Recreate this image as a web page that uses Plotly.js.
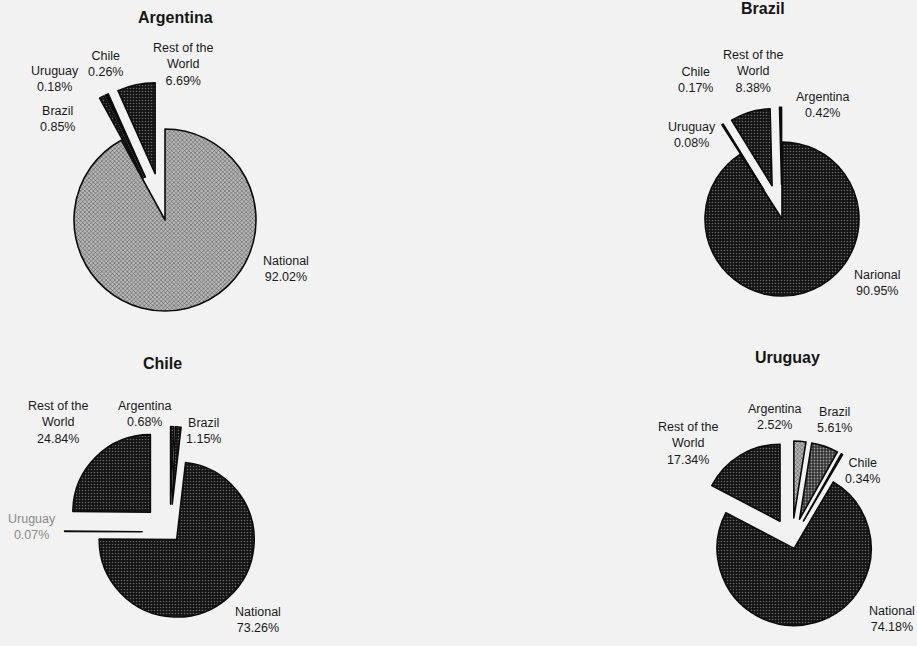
<!DOCTYPE html>
<html>
<head>
<meta charset="utf-8">
<script src="https://cdn.plot.ly/plotly-3.0.1.min.js"></script>
<style>
  html, body { margin: 0; padding: 0; background: #f2f2f2; }
  #chart { width: 917px; height: 646px; }
</style>
</head>
<body>
<div id="chart"></div>
<script>
// Origin of tourists by country, share of arrivals (%)
const argentinaLabels = ['National', 'Brazil', 'Uruguay', 'Chile', 'Rest of the World'];
const argentinaValues = [92.02, 0.85, 0.18, 0.26, 6.69];

const brazilLabels = ['Narional', 'Uruguay', 'Chile', 'Rest of the World', 'Argentina'];
const brazilValues = [90.95, 0.08, 0.17, 8.38, 0.42];

const chileLabels = ['Argentina', 'Brazil', 'National', 'Uruguay', 'Rest of the World'];
const chileValues = [0.68, 1.15, 73.26, 0.07, 24.84];

const uruguayLabels = ['Argentina', 'Brazil', 'Chile', 'National', 'Rest of the World'];
const uruguayValues = [2.52, 5.61, 0.34, 74.18, 17.34];

const W = 917, H = 646;
const FONT = '"Liberation Sans", Arial, sans-serif';

// fills
const DARK = {bg: '#131313', fg: '#666666', shape: '.', size: 3, solidity: 0.22};
const MID = {bg: '#303030', fg: '#9a9a9a', shape: '.', size: 3, solidity: 0.3};
const LIGHT = {bg: '#b6b6b6', fg: '#4a4a4a', shape: 'x', size: 3, solidity: 0.3};

// pie layout: centre (px), radius (px), pull per slice, fill per slice, label positions (px)
const pies = [
  {
    title: 'Argentina', titlePos: [175, 18],
    labels: argentinaLabels, values: argentinaValues,
    cx: 165, cy: 220, r: 91,
    pull: [0, 0.52, 0.52, 0.52, 0.52],
    fill: [LIGHT, DARK, DARK, DARK, DARK],
    text: {
      'National': [286, 269], 'Brazil': [57, 119], 'Uruguay': [55, 79],
      'Chile': [105, 64], 'Rest of the World': [183, 64]
    }
  },
  {
    title: 'Brazil', titlePos: [763, 8],
    labels: brazilLabels, values: brazilValues,
    cx: 782, cy: 219, r: 77,
    pull: [0, 0.45, 0.45, 0.45, 0.45],
    fill: [DARK, DARK, DARK, DARK, DARK],
    text: {
      'Narional': [877, 283], 'Uruguay': [692, 135], 'Chile': [695, 80],
      'Rest of the World': [753, 71], 'Argentina': [823, 105]
    }
  },
  {
    title: 'Chile', titlePos: [162, 363],
    labels: chileLabels, values: chileValues,
    cx: 170, cy: 532, r: 77.5,
    pull: [0.36, 0.36, 0.13, 0.36, 0.36],
    fill: [DARK, DARK, DARK, DARK, DARK],
    text: {
      'Argentina': [145, 414], 'Brazil': [203, 431], 'National': [258, 620],
      'Uruguay': [32, 527], 'Rest of the World': [58, 422]
    },
    faded: ['Uruguay']
  },
  {
    title: 'Uruguay', titlePos: [787, 357],
    labels: uruguayLabels, values: uruguayValues,
    cx: 792, cy: 541, r: 77,
    pull: [0.3, 0.3, 0.3, 0.1, 0.3],
    fill: [LIGHT, MID, DARK, DARK, DARK],
    text: {
      'Argentina': [775, 417], 'Brazil': [834, 420], 'Chile': [862, 471],
      'National': [892, 619], 'Rest of the World': [688, 443]
    }
  }
];

const data = [];
const annotations = [];

pies.forEach(p => {
  const half = p.r * (1 + Math.max(...p.pull));
  data.push({
    type: 'pie',
    labels: p.labels,
    values: p.values,
    sort: false,
    direction: 'clockwise',
    rotation: 0,
    pull: p.pull,
    textinfo: 'none',
    hoverinfo: 'label+percent',
    showlegend: false,
    domain: {
      x: [(p.cx - half) / W, (p.cx + half) / W],
      y: [1 - (p.cy + half) / H, 1 - (p.cy - half) / H]
    },
    marker: {
      colors: p.fill.map(f => f.bg),
      line: {color: '#0b0b0b', width: 1.6},
      pattern: {
        shape: p.fill.map(f => f.shape),
        bgcolor: p.fill.map(f => f.bg),
        fgcolor: p.fill.map(f => f.fg),
        size: p.fill.map(f => f.size),
        solidity: p.fill.map(f => f.solidity),
        fillmode: 'replace'
      }
    }
  });

  annotations.push({
    text: '<b>' + p.title + '</b>',
    x: p.titlePos[0] / W, y: 1 - p.titlePos[1] / H,
    xref: 'paper', yref: 'paper', xanchor: 'center', yanchor: 'middle',
    showarrow: false,
    font: {family: FONT, size: 16, color: '#161616'}
  });

  p.labels.forEach((lab, i) => {
    const pos = p.text[lab];
    const name = lab === 'Rest of the World' ? 'Rest of the<br>World' : lab;
    const faded = p.faded && p.faded.includes(lab);
    annotations.push({
      text: name + '<br>' + p.values[i].toFixed(2) + '%',
      x: pos[0] / W, y: 1 - pos[1] / H,
      xref: 'paper', yref: 'paper', xanchor: 'center', yanchor: 'middle',
      align: 'center', showarrow: false,
      font: {family: FONT, size: 12.5, color: faded ? '#8a8a8a' : '#1a1a1a'}
    });
  });
});

const layout = {
  width: W, height: H,
  margin: {l: 0, r: 0, t: 0, b: 0},
  paper_bgcolor: '#f2f2f2',
  plot_bgcolor: '#f2f2f2',
  annotations: annotations
};

Plotly.newPlot('chart', data, layout, {displayModeBar: false, responsive: false});
</script>
</body>
</html>
